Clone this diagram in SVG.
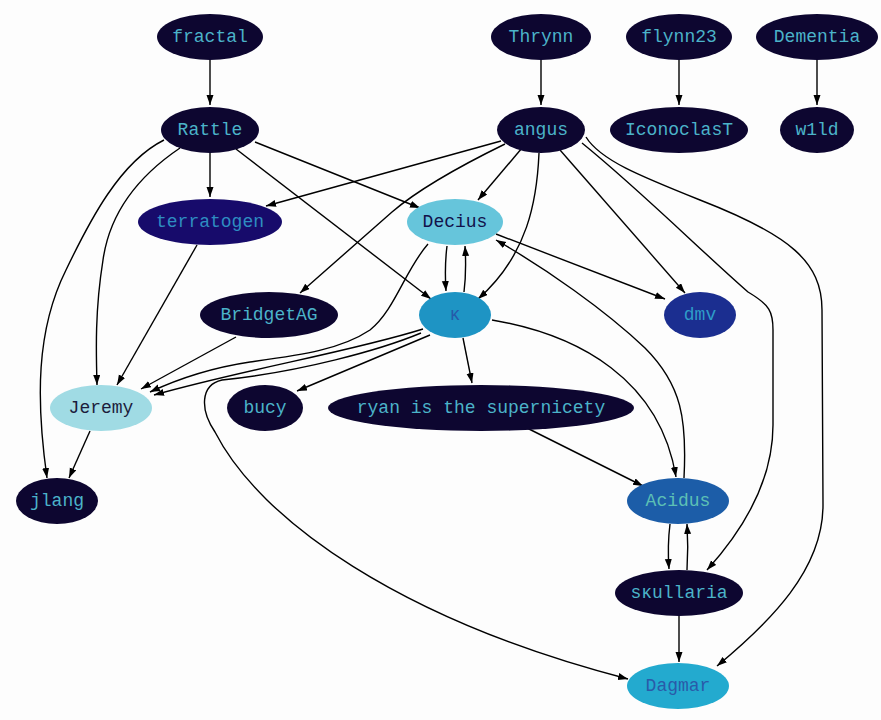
<svg xmlns="http://www.w3.org/2000/svg" width="881" height="720" viewBox="0 0 881 720">
<defs>
<marker id="ah" markerUnits="userSpaceOnUse" markerWidth="11" markerHeight="8" refX="10" refY="3.5" orient="auto"><path d="M0,0 L10,3.5 L0,7 z" fill="#000"/></marker>
<style>
text{font-family:"Liberation Mono","Courier New",monospace;font-size:18px;text-anchor:middle;dominant-baseline:central}
.dk ellipse{fill:#0d0630}.dk text{fill:#4bb3c9}
#connectors path{fill:none;stroke:#000;stroke-width:1.4;marker-end:url(#ah)}
</style>
</defs>
<rect width="881" height="720" fill="#fdfdfd"/>
<g id="connectors">
<path d="M210,60 L210,105"/>
<path d="M541,60 L541,105"/>
<path d="M679,60 L679,105"/>
<path d="M817,60 L817,105"/>
<path d="M210,153 L210,197"/>
<path d="M255,142 L420,208"/>
<path d="M236,149 L431,299"/>
<path d="M180,148 C140,175 110,210 103,260 C95,310 96,350 97,385"/>
<path d="M164,140 C120,162 90,220 66,270 C36,330 36,400 47,478"/>
<path d="M501,141 L266,206"/>
<path d="M505,144 C460,166 420,188 392,212 L300,293"/>
<path d="M522,148 L478,200"/>
<path d="M539,153 C537,200 528,255 478,299"/>
<path d="M560,150 L685,293"/>
<path d="M582,143 C640,190 700,250 748,292 C770,305 773,312 773,330 L773,425 C773,480 745,528 707,570"/>
<path d="M586,137 C600,160 640,176 700,200 C790,235 822,262 822,310 L823,505 C823,570 770,622 717,666"/>
<path d="M447,246 C445,262 445,276 446,291"/>
<path d="M464,292 C466,276 466,262 465,246"/>
<path d="M496,234 L665,299"/>
<path d="M684,478 C687,420 682,385 645,348 C605,310 545,268 496,240"/>
<path d="M428,244 C405,270 395,310 370,330 C340,350 300,355 250,362 C210,368 180,378 150,392"/>
<path d="M236,337 L141,389"/>
<path d="M423,329 C350,352 250,368 154,395"/>
<path d="M421,333 C380,350 300,372 222,380 C200,385 200,410 215,432 C260,520 400,620 628,679"/>
<path d="M430,335 L297,391"/>
<path d="M463,338 L472,383"/>
<path d="M492,320 C580,335 660,380 676,477"/>
<path d="M527,428 L643,486"/>
<path d="M670,524 C668,540 668,555 669,569"/>
<path d="M687,570 C688,555 688,540 687,524"/>
<path d="M679,616 L679,662"/>
<path d="M197,245 L117,385"/>
<path d="M90,431 L69,478"/>
</g>
<g id="fractal" class="dk"><ellipse cx="210" cy="37" rx="53" ry="23"/><text x="210" y="37">fractal</text></g>
<g id="Thrynn" class="dk"><ellipse cx="541" cy="37" rx="50" ry="23"/><text x="541" y="37">Thrynn</text></g>
<g id="flynn23" class="dk"><ellipse cx="679" cy="37" rx="53" ry="23"/><text x="679" y="37">flynn23</text></g>
<g id="Dementia" class="dk"><ellipse cx="817" cy="37" rx="61" ry="23"/><text x="817" y="37">Dementia</text></g>
<g id="Rattle" class="dk"><ellipse cx="210" cy="130" rx="49" ry="23"/><text x="210" y="130">Rattle</text></g>
<g id="angus" class="dk"><ellipse cx="541" cy="130" rx="44" ry="23"/><text x="541" y="130">angus</text></g>
<g id="IconoclasT" class="dk"><ellipse cx="679" cy="130" rx="69" ry="23"/><text x="679" y="130">IconoclasT</text></g>
<g id="w1ld" class="dk"><ellipse cx="817" cy="130" rx="37" ry="23"/><text x="817" y="130">w1ld</text></g>
<g id="terratogen"><ellipse cx="210" cy="222" rx="72" ry="23" fill="#170b6b"/><text x="210" y="222" fill="#2e8dc1">terratogen</text></g>
<g id="Decius"><ellipse cx="455" cy="222" rx="48" ry="23" fill="#66c5db"/><text x="455" y="222" fill="#12124a">Decius</text></g>
<g id="BridgetAG" class="dk"><ellipse cx="269" cy="315" rx="69" ry="23"/><text x="269" y="315">BridgetAG</text></g>
<g id="kra"><ellipse cx="455" cy="315" rx="36" ry="23" fill="#1e94c4"/><text x="455" y="315" fill="#2659a9">ĸ</text></g>
<g id="dmv"><ellipse cx="700" cy="315" rx="36" ry="23" fill="#1b2e90"/><text x="700" y="315" fill="#2e9cc8">dmv</text></g>
<g id="Jeremy"><ellipse cx="101" cy="408" rx="51" ry="23" fill="#a0dbe4"/><text x="101" y="408" fill="#1c1c3c">Jeremy</text></g>
<g id="bucy" class="dk"><ellipse cx="265" cy="408" rx="38" ry="23"/><text x="265" y="408">bucy</text></g>
<g id="ryan" class="dk"><ellipse cx="481" cy="408" rx="153" ry="23"/><text x="481" y="408">ryan is the supernicety</text></g>
<g id="jlang" class="dk"><ellipse cx="57" cy="501" rx="41" ry="23"/><text x="57" y="501">jlang</text></g>
<g id="Acidus"><ellipse cx="678" cy="501" rx="51" ry="23" fill="#1c5da8"/><text x="678" y="501" fill="#5cc0b5">Acidus</text></g>
<g id="skullaria" class="dk"><ellipse cx="679" cy="593" rx="64" ry="23"/><text x="679" y="593">sĸullaria</text></g>
<g id="Dagmar"><ellipse cx="678" cy="686" rx="51" ry="23" fill="#23aacf"/><text x="678" y="686" fill="#2a5aa9">Dagmar</text></g>
</svg>
